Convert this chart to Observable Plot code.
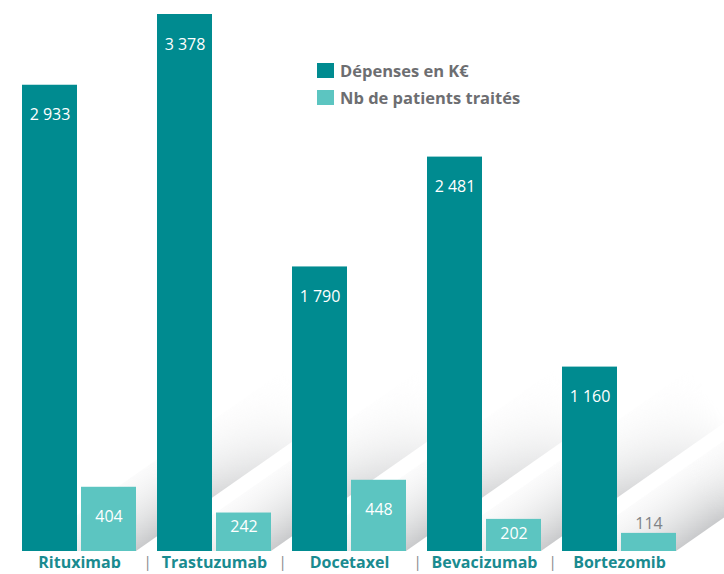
<!DOCTYPE html>
<html><head><meta charset="utf-8">
<script src="https://cdn.jsdelivr.net/npm/d3@7"></script>
<script src="https://cdn.jsdelivr.net/npm/@observablehq/plot@0.6"></script>
<style>
body{margin:0;background:#fff;}
#wrap{position:relative;width:724px;height:574px;font-family:"Open Sans",sans-serif;overflow:hidden;}
#wrap svg{display:block;}
.legend{position:absolute;left:317px;top:57px;font-weight:bold;font-size:16.5px;color:#6d6e71;}
.legend div{display:flex;align-items:center;height:27px;white-space:nowrap;}
.legend span.sw{width:17px;height:15px;margin-right:6px;display:inline-block;}
</style></head><body><div id="wrap"></div>
<script>
const categories = ["Rituximab","Trastuzumab","Docetaxel","Bevacizumab","Bortezomib"];
const depenses = [2933,3378,1790,2481,1160];
const patients = [404,242,448,202,114];
const seriesNames = ["Dépenses en K€","Nb de patients traités"];
const colors = ["#008b90","#5cc5c1"];

const data = categories.flatMap((c,i)=>[
  {cat:c, series:seriesNames[0], value:depenses[i]},
  {cat:c, series:seriesNames[1], value:patients[i]}
]);
const fmt = v => d3.format(",")(v).replace(/,/g," ");
const yMax = d3.max(data, d=>d.value);
const plotTop = 14, plotBottom = 23, H = 574;
const pxPerUnit = (H - plotTop - plotBottom) / yMax;
const hpx = d => d.value * pxPerUnit;

const plot = Plot.plot({
  width:724, height:H, marginTop:plotTop, marginBottom:plotBottom, marginLeft:22, marginRight:48,
  fx:{domain:categories, paddingInner:0.156, paddingOuter:0, axis:null, label:null},
  x:{domain:seriesNames, paddingInner:0.07, paddingOuter:0, axis:null},
  y:{domain:[0,yMax], axis:null},
  color:{domain:seriesNames, range:colors},
  style:{fontFamily:"'Open Sans', sans-serif", background:"transparent"},
  marks:[
    Plot.barY(data,{fx:"cat", x:"series", y:"value", fill:"series"}),
    Plot.text(data.filter(d=>hpx(d)>62), {fx:"cat", x:"series", y:"value", text:d=>fmt(d.value), dy:30, fill:"white", fontSize:16}),
    Plot.text(data.filter(d=>hpx(d)<=62 && hpx(d)>25), {fx:"cat", x:"series", y:"value", text:d=>fmt(d.value), dy:14, fill:"white", fontSize:16}),
    Plot.text(data.filter(d=>hpx(d)<=25), {fx:"cat", x:"series", y:"value", text:d=>fmt(d.value), dy:-10, fill:"#808285", fontSize:16}),
    Plot.text(categories, {fx:d=>d, frameAnchor:"bottom", dy:16, text:d=>d, fontWeight:"bold", fontSize:16, fill:"#1a8b90"}),
    Plot.text(categories.slice(0,-1), {fx:d=>d, frameAnchor:"bottom-right", textAnchor:"middle", dx:11, dy:15, text:()=>"|", fill:"#8a8a8a", fontSize:15})
  ]
});
const wrap = document.getElementById("wrap");
wrap.appendChild(plot);

// soft diagonal shadows derived from the rendered bars
const sr = plot.getBoundingClientRect();
const rects = [...plot.querySelectorAll('rect')]
  .filter(r => colors.includes((r.getAttribute("fill")||"").toLowerCase()))
  .map(r=>{
    const b = r.getBoundingClientRect();
    return {x0:b.left-sr.left, x1:b.right-sr.left, y1:b.bottom-sr.top};
  }).sort((a,b)=>a.x0-b.x0);
const ns = "http://www.w3.org/2000/svg";
const mk = (tag, attrs) => { const e = document.createElementNS(ns, tag); for (const k in attrs) e.setAttribute(k, attrs[k]); return e; };
const g = mk("g", {});
const defs = mk("defs", {});
g.appendChild(defs);
const L = 260, s = 0.7;
for (let i=0;i+1<rects.length;i+=2){
  const xL = rects[i].x0 + 4, xR = rects[i+1].x1, y0 = Math.max(rects[i].y1, rects[i+1].y1);
  const W = xR - xL;
  const nrm = Math.sqrt(1+s*s);
  const dist = W*s/nrm;
  const px = -s/nrm, py = -1/nrm;
  const cross = mk("linearGradient", {id:"shc"+i, gradientUnits:"userSpaceOnUse",
    x1:xR, y1:y0, x2:xR+px*dist, y2:y0+py*dist});
  [[0,"#c6c7c9",0.95],[0.35,"#dadbdc",0.8],[1,"#f2f2f3",0.3]].forEach(([o,c,op])=>
    cross.appendChild(mk("stop",{offset:o,"stop-color":c,"stop-opacity":op})));
  defs.appendChild(cross);
  const along = mk("linearGradient", {id:"sha"+i, gradientUnits:"userSpaceOnUse",
    x1:xL, y1:y0, x2:xL+L, y2:y0-L*s});
  [[0,"#fff",1],[0.45,"#fff",1],[1,"#000",1]].forEach(([o,c,op])=>
    along.appendChild(mk("stop",{offset:o,"stop-color":c,"stop-opacity":op})));
  defs.appendChild(along);
  const mask = mk("mask", {id:"shm"+i, maskUnits:"userSpaceOnUse", x:0, y:0, width:724, height:574});
  mask.appendChild(mk("rect",{x:0,y:0,width:724,height:574,fill:`url(#sha${i})`}));
  defs.appendChild(mask);
  g.appendChild(mk("polygon", {
    points:`${xL},${y0} ${xR},${y0} ${xR+L},${y0-L*s} ${xL+L},${y0-L*s}`,
    fill:`url(#shc${i})`, mask:`url(#shm${i})`
  }));
}
plot.insertBefore(g, plot.firstChild);

// legend
const leg = document.createElement("div");
leg.className = "legend";
seriesNames.forEach((name,i)=>{
  const row = document.createElement("div");
  const sw = document.createElement("span");
  sw.className="sw"; sw.style.background=colors[i];
  row.appendChild(sw);
  row.appendChild(document.createTextNode(name));
  leg.appendChild(row);
});
wrap.appendChild(leg);
</script></body></html>
